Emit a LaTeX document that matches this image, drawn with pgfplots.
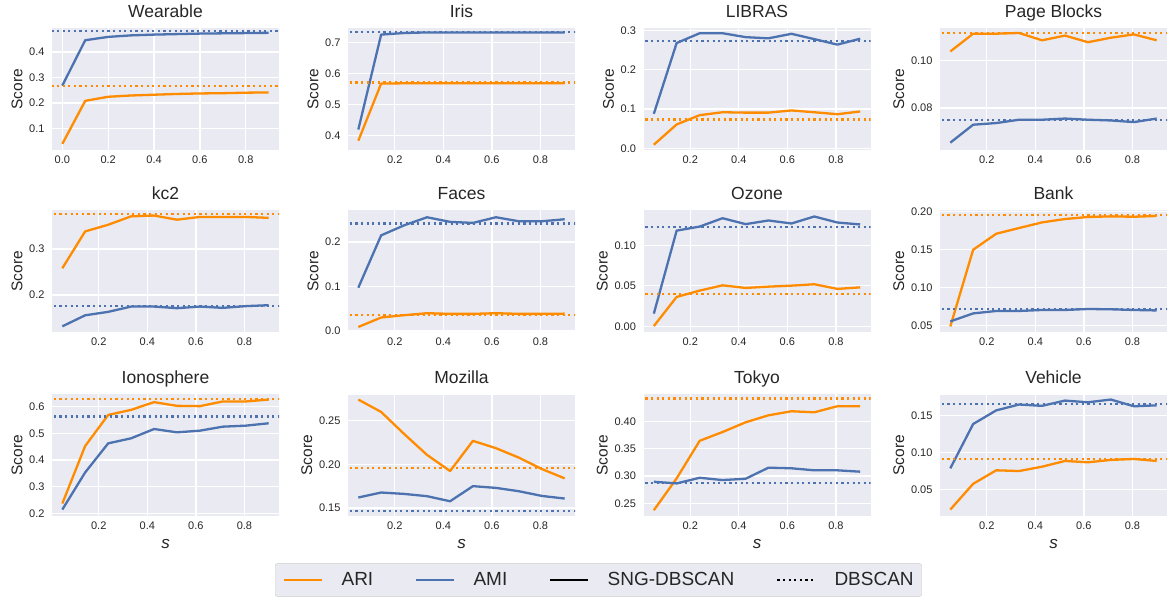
\documentclass[border=0pt]{standalone}
\usepackage{fontspec}
\setmainfont{Liberation Sans}
\usepackage{pgfplots}
\usepackage{pgfplotstable}
\pgfplotsset{compat=1.18}
\definecolor{bgc}{HTML}{EAEAF2}
\definecolor{ari}{HTML}{FF8C00}
\definecolor{ami}{HTML}{4C72B0}
\definecolor{txt}{HTML}{262626}

\pgfplotsset{
 panel/.style={
  scale only axis, width=227pt, height=121.5pt, anchor=south west,
  axis background/.style={fill=bgc},
  axis line style={draw=none},
  major tick length=0pt,
  grid=major, major grid style={white, line width=1.3pt},
  xtick={0.2,0.4,0.6,0.8},
  xmin=0.0075, xmax=0.9425,
  /pgf/number format/assume math mode=true,
  tick label style={font=\fontsize{11}{13}\selectfont, text=txt},
  xticklabel style={yshift=-2.5pt, /pgf/number format/.cd, fixed, fixed zerofill, precision=1},
  yticklabel style={xshift=-4pt, /pgf/number format/.cd, fixed, fixed zerofill, precision=1},
  scaled ticks=false,
  title style={font=\fontsize{17.5}{20}\selectfont, text=txt, text depth=0pt, yshift=1.5pt},
  ylabel={Score},
  ylabel style={font=\fontsize{15.5}{17}\selectfont, text=txt, text depth=0pt},
 },
 ptwo/.style={yticklabel style={/pgf/number format/.cd, fixed, fixed zerofill, precision=2}},
 bottomrow/.style={xlabel={\textit{s}}, xlabel style={font=\fontsize{17}{19}\selectfont, text=txt, yshift=-3pt}},
 ariL/.style={color=ari, line width=2.3pt, line join=round, forget plot},
 amiL/.style={color=ami, line width=2.3pt, line join=round, forget plot},
 ariD/.style={color=ari, line width=2.2pt, dash pattern=on 2.2pt off 3.4pt, forget plot},
 amiD/.style={color=ami, line width=2.2pt, dash pattern=on 2.2pt off 3.4pt, forget plot},
}

\pgfplotstableread{
s ari ami
0.0 0.039 0.268
0.1 0.208 0.446
0.2 0.224 0.459
0.3 0.229 0.465
0.4 0.232 0.468
0.5 0.235 0.470
0.6 0.237 0.472
0.7 0.238 0.473
0.8 0.240 0.474
0.9 0.241 0.475
}\wearable
\pgfplotstableread{
s ari ami
0.05 0.384 0.420
0.144 0.568 0.726
0.239 0.569 0.731
0.333 0.569 0.733
0.428 0.569 0.733
0.522 0.569 0.733
0.617 0.569 0.733
0.711 0.569 0.733
0.806 0.569 0.733
0.9 0.569 0.733
}\iris
\pgfplotstableread{
s ari ami
0.05 0.0094 0.088
0.144 0.061 0.268
0.239 0.0846 0.293
0.333 0.092 0.293
0.428 0.091 0.283
0.522 0.091 0.280
0.617 0.0966 0.2915
0.711 0.092 0.278
0.806 0.087 0.264
0.9 0.094 0.279
}\libras
\pgfplotstableread{
s ari ami
0.05 0.1039 0.0653
0.144 0.1114 0.0729
0.239 0.1114 0.0736
0.333 0.1117 0.0750
0.428 0.1086 0.0750
0.522 0.1106 0.0755
0.617 0.1078 0.0750
0.711 0.1097 0.0747
0.806 0.1111 0.0740
0.9 0.1086 0.0755
}\pageblocks
\pgfplotstableread{
s ari ami
0.05 0.2584 0.132
0.144 0.3385 0.156
0.239 0.353 0.1635
0.333 0.3713 0.175
0.428 0.373 0.175
0.522 0.364 0.1715
0.617 0.370 0.175
0.711 0.370 0.1722
0.806 0.370 0.176
0.9 0.368 0.178
}\kctwo
\pgfplotstableread{
s ari ami
0.05 0.009 0.0974
0.144 0.0303 0.2151
0.239 0.0355 0.2377
0.333 0.040 0.2558
0.428 0.0385 0.2454
0.522 0.0385 0.2431
0.617 0.040 0.2558
0.711 0.0385 0.2468
0.806 0.0385 0.2468
0.9 0.039 0.2513
}\faces
\pgfplotstableread{
s ari ami
0.05 0.0004 0.0157
0.144 0.0363 0.118
0.239 0.0441 0.123
0.333 0.0506 0.1333
0.428 0.0474 0.126
0.522 0.049 0.1305
0.617 0.0502 0.1268
0.711 0.0519 0.1354
0.806 0.0462 0.128
0.9 0.0481 0.1256
}\ozone
\pgfplotstableread{
s ari ami
0.05 0.049 0.0556
0.144 0.1497 0.0661
0.239 0.1707 0.0693
0.333 0.1782 0.0693
0.428 0.1856 0.0706
0.522 0.190 0.0706
0.617 0.1927 0.0719
0.711 0.1935 0.0715
0.806 0.193 0.0706
0.9 0.194 0.0700
}\bank
\pgfplotstableread{
s ari ami
0.05 0.2375 0.215
0.144 0.4524 0.3537
0.239 0.5686 0.4625
0.333 0.5875 0.4812
0.428 0.6165 0.5161
0.522 0.6026 0.5036
0.617 0.6015 0.5099
0.711 0.619 0.5248
0.806 0.619 0.5286
0.9 0.626 0.5375
}\ionosphere
\pgfplotstableread{
s ari ami
0.05 0.2742 0.162
0.144 0.260 0.1677
0.239 0.2347 0.1661
0.333 0.2108 0.1635
0.428 0.1923 0.1577
0.522 0.2269 0.175
0.617 0.2185 0.173
0.711 0.2077 0.1692
0.806 0.1946 0.1638
0.9 0.1839 0.1608
}\mozilla
\pgfplotstableread{
s ari ami
0.05 0.2377 0.2897
0.144 0.2959 0.2867
0.239 0.3645 0.297
0.333 0.3805 0.2928
0.428 0.3982 0.2952
0.522 0.411 0.3154
0.617 0.4184 0.3143
0.711 0.4165 0.3106
0.806 0.4276 0.3106
0.9 0.4276 0.3081
}\tokyo
\pgfplotstableread{
s ari ami
0.05 0.0229 0.0785
0.144 0.0576 0.1382
0.239 0.0758 0.1566
0.333 0.0748 0.1645
0.428 0.0807 0.1627
0.522 0.0884 0.1698
0.617 0.0866 0.1675
0.711 0.0898 0.1712
0.806 0.0911 0.1621
0.9 0.0884 0.1634
}\vehicle

\begin{document}
\begin{tikzpicture}
\path[use as bounding box] (0pt,0pt) rectangle (1174pt,605pt);

% Row 1
\begin{axis}[panel, at={(52pt,455pt)}, title={Wearable},
  xmin=-0.045, xmax=0.945, xtick={0,0.2,0.4,0.6,0.8},
  ymin=0.015, ymax=0.492, ytick={0.1,0.2,0.3,0.4}]
\addplot[ariL] table[x=s,y=ari]{\wearable};
\addplot[amiL] table[x=s,y=ami]{\wearable};
\addplot[ariD] coordinates {(-1,0.266) (2,0.266)};
\addplot[amiD] coordinates {(-1,0.482) (2,0.482)};
\end{axis}

\begin{axis}[panel, at={(348pt,455pt)}, title={Iris},
  ymin=0.354, ymax=0.7456, ytick={0.4,0.5,0.6,0.7}]
\addplot[ariL] table[x=s,y=ari]{\iris};
\addplot[amiL] table[x=s,y=ami]{\iris};
\addplot[ariD] coordinates {(-1,0.5716) (2,0.5716)};
\addplot[amiD] coordinates {(-1,0.735) (2,0.735)};
\end{axis}

\begin{axis}[panel, at={(643.5pt,455pt)}, title={LIBRAS},
  ymin=-0.004, ymax=0.305, ytick={0,0.1,0.2,0.3}]
\addplot[ariL] table[x=s,y=ari]{\libras};
\addplot[amiL] table[x=s,y=ami]{\libras};
\addplot[ariD] coordinates {(-1,0.0735) (2,0.0735)};
\addplot[amiD] coordinates {(-1,0.2726) (2,0.2726)};
\end{axis}

\begin{axis}[panel, ptwo, at={(940pt,455pt)}, title={Page Blocks},
  ymin=0.0622, ymax=0.1136, ytick={0.08,0.10}]
\addplot[ariL] table[x=s,y=ari]{\pageblocks};
\addplot[amiL] table[x=s,y=ami]{\pageblocks};
\addplot[ariD] coordinates {(-1,0.1117) (2,0.1117)};
\addplot[amiD] coordinates {(-1,0.0749) (2,0.0749)};
\end{axis}

% Row 2
\begin{axis}[panel, at={(52pt,273pt)}, title={kc2},
  ymin=0.1197, ymax=0.384, ytick={0.2,0.3}]
\addplot[ariL] table[x=s,y=ari]{\kctwo};
\addplot[amiL] table[x=s,y=ami]{\kctwo};
\addplot[ariD] coordinates {(-1,0.3766) (2,0.3766)};
\addplot[amiD] coordinates {(-1,0.1766) (2,0.1766)};
\end{axis}

\begin{axis}[panel, at={(348pt,273pt)}, title={Faces},
  ymin=-0.0023, ymax=0.271, ytick={0,0.1,0.2}]
\addplot[ariL] table[x=s,y=ari]{\faces};
\addplot[amiL] table[x=s,y=ami]{\faces};
\addplot[ariD] coordinates {(-1,0.0362) (2,0.0362)};
\addplot[amiD] coordinates {(-1,0.2416) (2,0.2416)};
\end{axis}

\begin{axis}[panel, ptwo, at={(643.5pt,273pt)}, title={Ozone},
  ymin=-0.0069, ymax=0.1428, ytick={0,0.05,0.10}]
\addplot[ariL] table[x=s,y=ari]{\ozone};
\addplot[amiL] table[x=s,y=ami]{\ozone};
\addplot[ariD] coordinates {(-1,0.0395) (2,0.0395)};
\addplot[amiD] coordinates {(-1,0.1222) (2,0.1222)};
\end{axis}

\begin{axis}[panel, ptwo, at={(940pt,273pt)}, title={Bank},
  ymin=0.0417, ymax=0.2012, ytick={0.05,0.10,0.15,0.20}]
\addplot[ariL] table[x=s,y=ari]{\bank};
\addplot[amiL] table[x=s,y=ami]{\bank};
\addplot[ariD] coordinates {(-1,0.1952) (2,0.1952)};
\addplot[amiD] coordinates {(-1,0.0723) (2,0.0723)};
\end{axis}

% Row 3
\begin{axis}[panel, bottomrow, at={(52pt,89pt)}, title={Ionosphere},
  ymin=0.191, ymax=0.645, ytick={0.2,0.3,0.4,0.5,0.6}]
\addplot[ariL] table[x=s,y=ari]{\ionosphere};
\addplot[amiL] table[x=s,y=ami]{\ionosphere};
\addplot[ariD] coordinates {(-1,0.6275) (2,0.6275)};
\addplot[amiD] coordinates {(-1,0.5625) (2,0.5625)};
\end{axis}

\begin{axis}[panel, ptwo, bottomrow, at={(348pt,89pt)}, title={Mozilla},
  ymin=0.1408, ymax=0.280, ytick={0.15,0.20,0.25},
  legend columns=4,
  legend cell align=left,
  legend image code/.code={\draw[#1] (0pt,0pt) -- (38pt,0pt);},
  legend style={at={(1.1035,-0.5267)}, anchor=center, fill=bgc, draw=black!20,
    rounded corners=2pt, font=\fontsize{19}{22}\selectfont, text=txt,
    inner xsep=8pt, inner ysep=9pt, nodes={inner sep=0pt},
    /tikz/every odd column/.append style={column sep=18pt},
    /tikz/every even column/.append style={column sep=42pt}}]
\addplot[ariL] table[x=s,y=ari]{\mozilla};
\addplot[amiL] table[x=s,y=ami]{\mozilla};
\addplot[ariD] coordinates {(-1,0.1961) (2,0.1961)};
\addplot[amiD] coordinates {(-1,0.1465) (2,0.1465)};
\addlegendimage{color=ari, line width=2.3pt}
\addlegendentry{ARI}
\addlegendimage{color=ami, line width=2.3pt}
\addlegendentry{AMI}
\addlegendimage{color=black, line width=2.3pt}
\addlegendentry{SNG-DBSCAN}
\addlegendimage{color=black, line width=2.2pt, dash pattern=on 2.2pt off 3.4pt}
\addlegendentry{DBSCAN}
\end{axis}

\begin{axis}[panel, ptwo, bottomrow, at={(643.5pt,89pt)}, title={Tokyo},
  ymin=0.2272, ymax=0.449, ytick={0.25,0.30,0.35,0.40}]
\addplot[ariL] table[x=s,y=ari]{\tokyo};
\addplot[amiL] table[x=s,y=ami]{\tokyo};
\addplot[ariD] coordinates {(-1,0.4417) (2,0.4417)};
\addplot[amiD] coordinates {(-1,0.2878) (2,0.2878)};
\end{axis}

\begin{axis}[panel, ptwo, bottomrow, at={(940pt,89pt)}, title={Vehicle},
  ymin=0.0142, ymax=0.178, ytick={0.05,0.10,0.15}]
\addplot[ariL] table[x=s,y=ari]{\vehicle};
\addplot[amiL] table[x=s,y=ami]{\vehicle};
\addplot[ariD] coordinates {(-1,0.0911) (2,0.0911)};
\addplot[amiD] coordinates {(-1,0.1657) (2,0.1657)};
\end{axis}
\end{tikzpicture}
\end{document}
